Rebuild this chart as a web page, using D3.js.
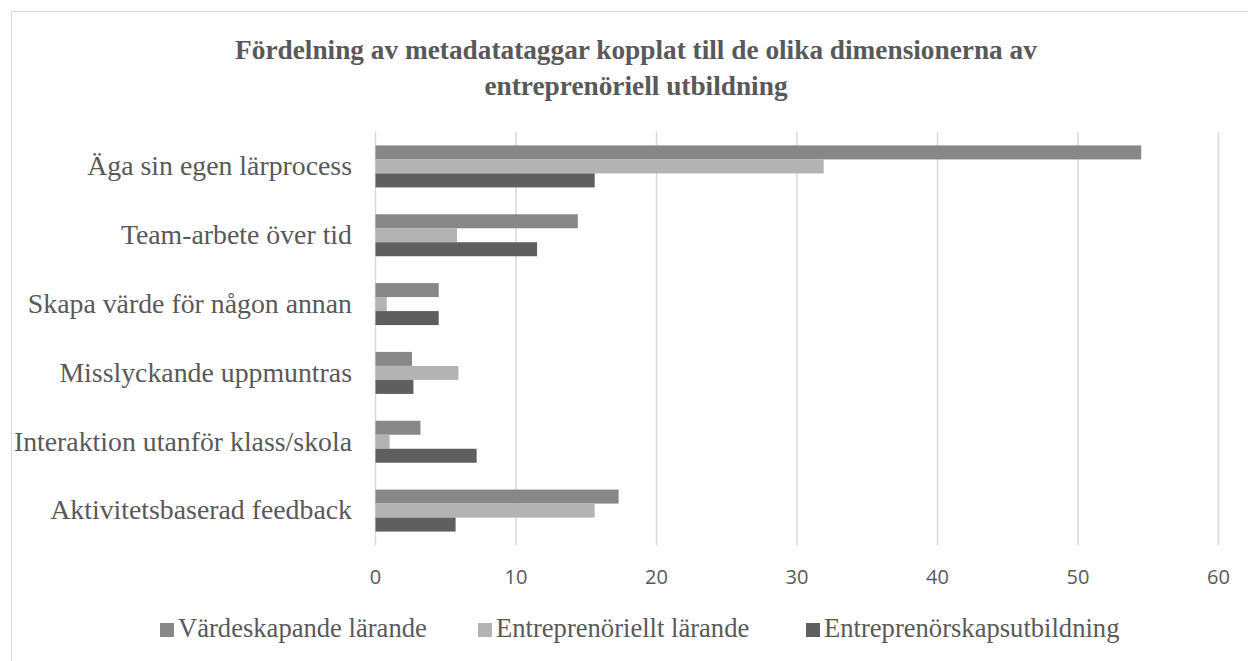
<!DOCTYPE html>
<html>
<head>
<meta charset="utf-8">
<script src="https://cdn.jsdelivr.net/npm/d3@7"></script>
<style>
  body { margin: 0; background: #fff; }
</style>
</head>
<body>
<div id="chart"></div>
<script>
const categories = [
  'Äga sin egen lärprocess',
  'Team-arbete över tid',
  'Skapa värde för någon annan',
  'Misslyckande uppmuntras',
  'Interaktion utanför klass/skola',
  'Aktivitetsbaserad feedback'
]
const seriesNames = ['Värdeskapande lärande', 'Entreprenöriellt lärande', 'Entreprenörskapsutbildning']
const vardeskapande = [54.5, 14.4, 4.5, 2.6, 3.2, 17.3]
const entreprenoriellt = [31.9, 5.8, 0.8, 5.9, 1.0, 15.6]
const entreprenorskap = [15.6, 11.5, 4.5, 2.7, 7.2, 5.7]
const xTicks = [0, 10, 20, 30, 40, 50, 60]
const colors = ['#878787', '#b3b3b3', '#5f5f5f']

const W = 1248
const H = 661
const plot = { left: 375, right: 1218, top: 132, bottom: 545 }
const textColor = '#595959'
const serif = '"Liberation Serif", "Times New Roman", serif'

const svg = d3.select('#chart').append('svg')
  .attr('width', W)
  .attr('height', H)

// Chart border
svg.append('rect')
  .attr('x', 11.5).attr('y', 11.5)
  .attr('width', W - 11).attr('height', H - 11)
  .attr('fill', '#fff')
  .attr('stroke', '#d9d9d9')

// Title
svg.append('text')
  .attr('text-anchor', 'middle')
  .style('font-family', serif)
  .style('font-weight', 'bold')
  .style('font-size', '27.3px')
  .attr('fill', textColor)
  .selectAll('tspan')
  .data(['Fördelning av metadatataggar kopplat till de olika dimensionerna av', 'entreprenöriell utbildning'])
  .join('tspan')
  .attr('x', 636)
  .attr('y', (d, i) => 59 + i * 36)
  .text(d => d)

const x = d3.scaleLinear().domain([0, 60]).range([plot.left, plot.right])
const y = d3.scaleBand().domain(categories).range([plot.top, plot.bottom])
  .paddingInner(0.39).paddingOuter(0.195)
const ySub = d3.scaleBand().domain(seriesNames).range([0, y.bandwidth()])

// Gridlines
svg.append('g')
  .selectAll('line')
  .data(xTicks)
  .join('line')
  .attr('x1', d => x(d) + 0.5).attr('x2', d => x(d) + 0.5)
  .attr('y1', plot.top).attr('y2', plot.bottom)
  .attr('stroke', '#d9d9d9')
  .attr('stroke-width', 1.5)

// Bars
const rows = categories.map((c, i) => ({
  cat: c,
  vals: [vardeskapande[i], entreprenoriellt[i], entreprenorskap[i]]
}))

svg.append('g')
  .selectAll('g')
  .data(rows)
  .join('g')
  .attr('transform', d => `translate(0,${y(d.cat)})`)
  .selectAll('rect')
  .data(d => d.vals.map((v, j) => ({ v, s: seriesNames[j], j })))
  .join('rect')
  .attr('x', x(0) + 0.5)
  .attr('y', d => ySub(d.s))
  .attr('width', d => x(d.v) - x(0))
  .attr('height', ySub.bandwidth())
  .attr('fill', d => colors[d.j])

// X axis tick labels
const xAxis = svg.append('g')
  .attr('transform', `translate(0,${plot.bottom})`)
  .call(d3.axisBottom(x).tickValues(xTicks).tickSize(0).tickPadding(25))
xAxis.select('.domain').remove()
xAxis.selectAll('text')
  .style('font-family', '"Open Sans", "Noto Sans", sans-serif')
  .style('font-size', '20px')
  .attr('fill', textColor)

// Y axis category labels
const yAxis = svg.append('g')
  .attr('transform', `translate(${plot.left},0)`)
  .call(d3.axisLeft(y).tickSize(0).tickPadding(23))
yAxis.select('.domain').remove()
yAxis.selectAll('text')
  .style('font-family', serif)
  .style('font-size', '27.8px')
  .attr('fill', textColor)

// Legend
const legendX = [160, 478, 806]
const legend = svg.append('g')
  .selectAll('g')
  .data(seriesNames)
  .join('g')
  .attr('transform', (d, i) => `translate(${legendX[i]},630)`)
legend.append('rect')
  .attr('x', 0).attr('y', -7)
  .attr('width', 14).attr('height', 14)
  .attr('fill', (d, i) => colors[i])
legend.append('text')
  .attr('x', 18).attr('y', 7)
  .style('font-family', serif)
  .style('font-size', '26.6px')
  .attr('fill', textColor)
  .text(d => d)
</script>
</body>
</html>
